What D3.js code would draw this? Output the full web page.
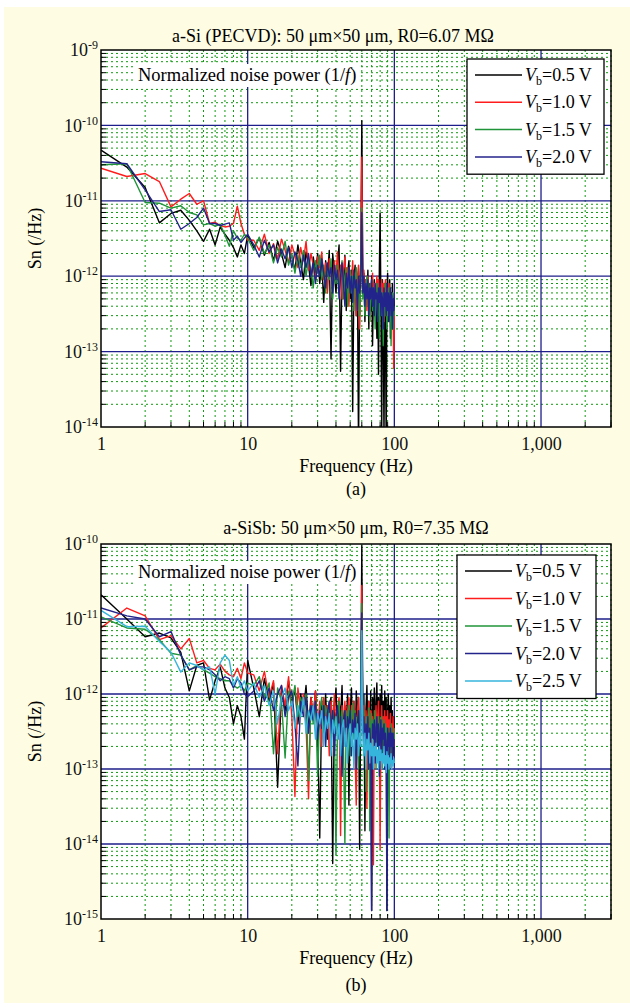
<!DOCTYPE html>
<html>
<head>
<meta charset="utf-8">
<script src="https://cdnjs.cloudflare.com/ajax/libs/d3/7.8.5/d3.min.js"></script>
<style>
  body { margin: 0; background: #fff; }
  svg { display: block; font-family: "Liberation Serif", "Times New Roman", serif; }
  .minorGrid { stroke: #109a10; stroke-width: 1; stroke-dasharray: 2,3; }
  .majorGrid { stroke: #1e1e8a; stroke-width: 1.3; }
  .frame { fill: none; stroke: #000; stroke-width: 1.5; }
  .trace { fill: none; stroke-width: 1.4; stroke-linejoin: round; }
</style>
</head>
<body>
<div id="chart"></div>
<script>
// frequency bins (Hz)
const freqs = [1, 1.5, 2, 2.5, 3, 3.5, 4, 4.5, 5, 5.5, 6, 6.5, 7, 7.5, 8, 8.5, 9, 9.5, 10,
  11, 12, 13, 14, 15, 16, 17, 18, 19, 20, 21, 22, 23, 24, 25, 26, 27, 28, 29, 30,
  31, 32, 33, 34, 35, 36, 37, 38, 39, 40, 41, 42, 43, 44, 45, 46, 47, 48, 49, 50,
  51, 52, 53, 54, 55, 56, 57, 58, 59, 60, 61, 62, 63, 64, 65, 66, 67, 68, 69, 70,
  71, 72, 73, 74, 75, 76, 77, 78, 79, 80, 81, 82, 83, 84, 85, 86, 87, 88, 89, 90,
  91, 92, 93, 94, 95, 96, 97, 98, 99, 100];
const xTicks = [1, 10, 100, 1000];
const xMax = 3000;
const biasLabels = ['0.5', '1.0', '1.5', '2.0', '2.5'];

// Sn values, in units of 1e-12 /Hz
// (a) a-Si
const siBlack = [47, 28, 15, 5.1, 6.8, 7.5, 5.5, 4.0, 2.9, 4.2, 2.6, 4.5, 3.6, 3.0, 2.4, 1.8, 2.6, 2.0, 3.5,
  2.4, 3.2, 1.9, 2.8, 1.6, 2.9, 2.0, 1.3, 2.5, 1.8,
  1.2, 2.6, 1.5, 0.9, 2.1, 1.4, 0.75, 1.8, 1.1, 2.0,
  0.8, 1.5, 0.45, 1.6, 1.0, 2.2, 0.08, 2.0, 1.1, 0.6,
  1.5, 2.6, 0.055, 1.3, 0.7, 1.9, 0.35, 1.1, 1.6, 0.5,
  1.2, 0.016, 0.9, 1.4, 0.3, 1.0, 0.005, 0.8, 1.5, 115,
  0.6, 1.1, 0.25, 0.9, 0.45, 1.2, 0.2, 0.8, 0.35, 1.0,
  0.12, 0.6, 0.9, 0.3, 0.7, 0.15, 0.8, 0.05, 1.2, 6.9,
  0.4, 0.008, 0.9, 0.3, 0.007, 0.8, 0.2, 0.006, 0.6, 1.1,
  0.25, 0.5, 0.9, 0.15, 0.6, 0.35, 0.8, 0.2, 0.5, 0.4];
const siRed = [27, 21, 23, 18, 8.3, 10.5, 12.5, 9.0, 10, 5.0, 5.2, 4.7, 4.5, 4.6, 5.0, 8.5, 5.0, 3.6, 3.0,
  3.0, 2.2, 3.6, 2.0, 2.7, 1.7, 3.1, 2.2, 1.5, 2.6,
  1.9, 1.3, 2.4, 1.6, 2.9, 1.2, 2.0, 1.4, 0.9, 1.8,
  1.3, 2.1, 0.9, 1.5, 0.6, 1.7, 1.1, 0.7, 1.6, 1.0,
  2.1, 0.8, 1.4, 0.5, 1.2, 1.8, 0.7, 1.3, 0.4, 1.1,
  0.8, 1.6, 0.6, 1.1, 0.3, 1.0, 1.4, 0.2, 0.9, 38,
  0.7, 1.2, 0.5, 0.9, 0.35, 1.0, 0.6, 0.25, 0.8, 0.5,
  1.1, 0.4, 0.8, 0.3, 0.7, 1.0, 0.45, 0.9, 0.3, 0.7,
  0.5, 0.9, 0.35, 0.8, 0.25, 0.6, 0.9, 0.4, 0.7, 0.3,
  0.6, 0.8, 0.35, 0.6, 0.25, 0.5, 0.3, 0.45, 0.06, 0.35];
const siGreen = [30, 31, 9.5, 9.3, 8.0, 8.6, 7.0, 6.5, 4.8, 5.0, 4.6, 4.9, 3.5, 2.5, 4.0, 3.2, 3.0, 3.6, 3.2,
  2.2, 3.3, 2.0, 2.6, 1.5, 2.4, 1.8, 2.9, 1.4, 2.0,
  1.1, 1.9, 1.3, 2.2, 1.0, 1.7, 1.2, 0.7, 1.6, 1.1,
  1.9, 0.9, 1.4, 0.6, 1.3, 0.9, 1.7, 0.5, 1.2, 0.8,
  1.4, 0.6, 1.1, 1.6, 0.5, 1.0, 1.3, 0.4, 0.9, 1.2,
  0.6, 1.0, 0.35, 0.9, 1.3, 0.5, 0.8, 0.3, 0.9, 8.0,
  0.5, 0.9, 0.3, 0.7, 1.0, 0.4, 0.8, 0.25, 0.6, 0.9,
  0.35, 0.7, 0.5, 0.2, 0.6, 0.8, 0.3, 0.6, 0.15, 0.5,
  0.7, 0.3, 0.6, 0.12, 0.5, 0.8, 0.3, 0.5, 0.2, 0.6,
  0.4, 0.7, 0.25, 0.5, 0.12, 0.45, 0.6, 0.2, 0.4, 0.3];
const siNavy = [33, 31, 14, 7.2, 7.6, 4.2, 5.0, 6.0, 8.0, 5.0, 5.0, 4.7, 4.9, 5.1, 3.0, 3.4, 2.8, 3.2, 3.6,
  2.6, 1.8, 3.0, 2.1, 2.6, 1.5, 2.3, 1.7, 2.4, 1.3,
  2.1, 1.6, 1.0, 1.9, 1.3, 2.0, 1.0, 1.5, 0.8, 1.4,
  1.0, 1.7, 1.1, 0.7, 1.5, 1.0, 1.3, 0.6, 1.4, 0.9,
  1.2, 0.5, 1.0, 1.5, 0.8, 0.4, 1.1, 0.7, 1.3, 0.6,
  1.0, 0.45, 1.2, 0.7, 0.9, 0.35, 1.0, 0.6, 0.8, 7.0,
  0.6, 1.0, 0.4, 0.8, 0.5, 0.9, 0.3, 0.7, 0.5, 0.9,
  0.4, 0.7, 0.3, 0.8, 0.5, 0.6, 0.25, 0.7, 0.45, 0.8,
  0.3, 0.6, 0.5, 0.2, 0.7, 0.4, 0.6, 0.3, 0.8, 0.35,
  0.6, 0.25, 0.5, 0.7, 0.3, 0.55, 0.2, 0.5, 0.35, 0.6];

// (b) a-SiSb
const sbBlack = [21, 10, 5.8, 6.5, 5.6, 3.6, 1.1, 2.4, 2.6, 0.83, 1.5, 2.3, 1.2, 0.9, 0.4, 0.7, 0.5, 0.25, 2.8,
  1.2, 0.5, 1.6, 0.8, 1.4, 0.057, 1.1, 0.6, 1.5, 0.7,
  1.2, 0.4, 1.0, 0.6, 1.3, 0.35, 0.9, 0.5, 1.1, 0.3,
  0.012, 0.8, 0.4, 1.0, 0.25, 0.7, 0.9, 0.0055, 0.6, 1.2,
  0.3, 0.8, 0.5, 1.3, 0.2, 0.7, 0.4, 1.0, 0.033, 0.6,
  1.2, 0.3, 0.8, 0.15, 1.1, 0.5, 0.9, 0.0085, 0.7, 95,
  0.4, 1.0, 0.015, 0.6, 1.3, 0.3, 0.8, 0.12, 1.1, 0.0013,
  0.9, 0.4, 1.2, 0.2, 0.8, 1.4, 0.3, 0.9, 0.1, 1.0,
  0.5, 1.3, 0.25, 0.8, 0.15, 1.1, 0.4, 0.9, 0.0013, 0.6,
  1.0, 0.3, 0.7, 0.2, 0.9, 0.35, 0.6, 0.15, 0.5, 0.3];
const sbRed = [7.6, 14, 11, 5.3, 6.0, 4.0, 5.5, 2.6, 2.8, 2.2, 2.1, 2.5, 2.0, 1.8, 1.7, 2.2, 1.6, 2.6, 1.9,
  1.8, 1.1, 2.0, 0.9, 1.5, 0.16, 1.3, 0.7, 1.7, 0.5,
  0.043, 1.2, 0.6, 1.0, 0.4, 0.04, 0.9, 0.5, 1.1, 0.35,
  0.8, 0.2, 0.9, 0.45, 0.7, 0.15, 0.8, 0.4, 1.0, 0.3,
  0.6, 0.9, 0.013, 0.7, 0.35, 0.8, 0.2, 0.6, 0.9, 0.25,
  0.7, 0.4, 0.8, 0.15, 0.033, 0.6, 0.9, 0.3, 0.5, 28,
  0.4, 0.7, 0.2, 0.6, 0.03, 0.5, 0.8, 0.25, 0.6, 0.1,
  0.5, 0.0053, 0.6, 0.3, 0.7, 0.2, 0.5, 0.8, 0.25, 0.0085,
  0.4, 0.7, 0.2, 0.5, 0.3, 0.6, 0.15, 0.5, 0.3, 0.6,
  0.2, 0.45, 0.3, 0.55, 0.15, 0.4, 0.25, 0.5, 0.2, 0.35];
const sbGreen = [10.7, 7.6, 7.3, 5.3, 3.5, 3.3, 2.1, 2.4, 2.1, 1.9, 1.7, 1.6, 1.5, 1.5, 1.3, 1.2, 1.3, 1.1, 1.4,
  1.3, 1.7, 0.9, 1.4, 0.16, 1.2, 0.8, 0.14, 1.1, 0.7,
  1.3, 0.5, 0.9, 0.6, 1.0, 0.07, 0.7, 0.4, 0.8, 0.08,
  0.6, 0.9, 0.3, 0.7, 0.5, 0.8, 0.2, 0.6, 0.4, 0.0073,
  0.5, 0.8, 0.3, 0.6, 0.2, 0.01, 0.6, 0.35, 0.7, 0.15,
  0.5, 0.75, 0.25, 0.6, 0.3, 0.5, 0.1, 0.45, 0.7, 16,
  0.3, 0.6, 0.4, 0.05, 0.5, 0.3, 0.65, 0.015, 0.4, 0.55,
  0.2, 0.45, 0.3, 0.6, 0.1, 0.4, 0.25, 0.5, 0.15, 0.4,
  0.3, 0.5, 0.1, 0.35, 0.45, 0.2, 0.4, 0.25, 0.35, 0.1,
  0.3, 0.012, 0.35, 0.2, 0.4, 0.15, 0.3, 0.2, 0.35, 0.25];
const sbNavy = [14, 11, 10, 5.8, 6.8, 3.3, 2.1, 2.3, 2.3, 2.1, 1.8, 1.5, 1.7, 1.6, 1.2, 1.6, 1.4, 1.0, 0.92,
  1.1, 1.5, 0.8, 1.2, 0.6, 1.0, 1.3, 0.5, 0.9, 1.1,
  0.4, 0.11, 0.8, 0.5, 0.9, 0.3, 0.7, 0.45, 0.8, 0.25,
  0.6, 0.35, 0.7, 0.2, 0.55, 0.8, 0.3, 0.6, 0.15, 0.5,
  0.7, 0.25, 0.5, 0.08, 0.45, 0.6, 0.2, 0.5, 0.35, 0.6,
  0.15, 0.45, 0.3, 0.55, 0.1, 0.4, 0.6, 0.2, 0.45, 12,
  0.3, 0.5, 0.15, 0.4, 0.25, 0.5, 0.1, 0.35, 0.2, 0.0013,
  0.4, 0.25, 0.45, 0.12, 0.35, 0.5, 0.2, 0.4, 0.08, 0.3,
  0.45, 0.15, 0.35, 0.25, 0.4, 0.1, 0.3, 0.2, 0.0013, 0.35,
  0.2, 0.3, 0.1, 0.35, 0.2, 0.3, 0.12, 0.3, 0.2, 0.25];
const sbCyan = [13, 7.9, 8.0, 5.0, 3.6, 1.96, 2.6, 2.4, 2.1, 2.3, 1.0, 2.6, 3.3, 2.8, 1.3, 1.7, 1.2, 1.5, 1.1,
  1.4, 0.9, 1.3, 0.7, 1.1, 0.4, 0.9, 1.2, 0.6, 0.8,
  0.35, 0.7, 0.5, 0.9, 0.3, 0.6, 0.45, 0.7, 0.25, 0.55,
  0.4, 0.6, 0.2, 0.5, 0.35, 0.55, 0.15, 0.45, 0.3, 0.5,
  0.25, 0.4, 0.15, 0.35, 0.45, 0.2, 0.35, 0.12, 0.3, 0.4,
  0.2, 0.3, 0.1, 0.35, 0.25, 0.4, 0.15, 0.3, 0.2, 7.0,
  0.25, 0.15, 0.3, 0.1, 0.25, 0.18, 0.3, 0.12, 0.22, 0.15,
  0.25, 0.1, 0.2, 0.15, 0.22, 0.12, 0.18, 0.1, 0.2, 0.13,
  0.18, 0.1, 0.16, 0.12, 0.2, 0.11, 0.15, 0.09, 0.17, 0.12,
  0.15, 0.1, 0.14, 0.12, 0.16, 0.1, 0.13, 0.11, 0.14, 0.12];

const lineColors = ['#000000', '#ff1c1c', '#1f9438', '#23238c', '#35b4dc'];
const unit = 1e-12;

const width = 630;
const height = 1008;
const svg = d3.select('#chart').append('svg')
  .attr('width', width)
  .attr('height', height);

// cream page background
svg.append('rect')
  .attr('x', 4).attr('y', 7)
  .attr('width', width - 4).attr('height', 996)
  .attr('fill', '#fefde3');

const panels = [
  {
    id: 'a', top: 50, bottom: 427, yMin: 1e-14, yMax: 1e-9,
    title: 'a-Si (PECVD): 50 μm×50 μm, R0=6.07 MΩ', caption: '(a)',
    titleX: 333, titleY: 42, captionY: 495,
    series: [siBlack, siRed, siGreen, siNavy],
    legend: { x: 467, y: 59, w: 137, rowH: 27.3 },
    noteY: 75
  },
  {
    id: 'b', top: 544, bottom: 919, yMin: 1e-15, yMax: 1e-10,
    title: 'a-SiSb: 50 μm×50 μm, R0=7.35 MΩ', caption: '(b)',
    titleX: 356, titleY: 534, captionY: 991,
    series: [sbBlack, sbRed, sbGreen, sbNavy, sbCyan],
    legend: { x: 457, y: 555, w: 139, rowH: 27.5 },
    noteY: 572
  }
];

const left = 101;
const right = 611;

const drawPanel = (p) => {
  const x = d3.scaleLog().domain([1, xMax]).range([left, right]);
  const y = d3.scaleLog().domain([p.yMin, p.yMax]).range([p.bottom, p.top]);
  const g = svg.append('g').attr('class', 'panel-' + p.id);

  g.append('rect')
    .attr('x', left).attr('y', p.top)
    .attr('width', right - left).attr('height', p.bottom - p.top)
    .attr('fill', '#fff');

  const isDecade = v => Math.abs(Math.log10(v) - Math.round(Math.log10(v))) < 1e-6;
  const xMinor = x.ticks().filter(v => !isDecade(v));
  const yMinor = y.ticks().filter(v => !isDecade(v));
  const xMajor = x.ticks().filter(v => isDecade(v) && v > 1);
  const yMajor = y.ticks().filter(v => isDecade(v) && v > p.yMin && v < p.yMax);

  g.selectAll('.vMinor').data(xMinor).enter().append('line')
    .attr('class', 'minorGrid')
    .attr('x1', d => x(d)).attr('x2', d => x(d))
    .attr('y1', p.top).attr('y2', p.bottom);
  g.selectAll('.hMinor').data(yMinor).enter().append('line')
    .attr('class', 'minorGrid')
    .attr('x1', left).attr('x2', right)
    .attr('y1', d => y(d)).attr('y2', d => y(d));
  g.selectAll('.vMajor').data(xMajor).enter().append('line')
    .attr('class', 'majorGrid')
    .attr('x1', d => x(d)).attr('x2', d => x(d))
    .attr('y1', p.top).attr('y2', p.bottom);
  g.selectAll('.hMajor').data(yMajor).enter().append('line')
    .attr('class', 'majorGrid')
    .attr('x1', left).attr('x2', right)
    .attr('y1', d => y(d)).attr('y2', d => y(d));

  // note label with white box
  const note = g.append('text')
    .attr('x', 138).attr('y', p.noteY + 6)
    .attr('font-size', 18.5);
  note.append('tspan').text('Normalized noise power (1/');
  note.append('tspan').attr('font-style', 'italic').text('f');
  note.append('tspan').text(')');
  const nb = note.node().getBBox();
  g.insert('rect', 'text')
    .attr('x', nb.x - 4).attr('y', nb.y - 1)
    .attr('width', nb.width + 8).attr('height', nb.height + 2)
    .attr('fill', '#fff');

  // traces
  const clipId = 'clip-' + p.id;
  g.append('clipPath').attr('id', clipId)
    .append('rect')
    .attr('x', left).attr('y', p.top)
    .attr('width', right - left).attr('height', p.bottom - p.top);
  const line = d3.line()
    .x((d, i) => x(freqs[i]))
    .y(d => y(d * unit));
  g.append('g')
    .attr('clip-path', `url(#${clipId})`)
    .selectAll('.trace')
    .data(p.series)
    .enter()
    .append('path')
    .attr('class', 'trace')
    .attr('stroke', (d, i) => lineColors[i])
    .attr('d', line);

  // frame and minor ticks
  g.append('rect')
    .attr('class', 'frame')
    .attr('x', left).attr('y', p.top)
    .attr('width', right - left).attr('height', p.bottom - p.top);
  g.selectAll('.yTick').data(yMinor).enter().append('line')
    .attr('stroke', '#000').attr('stroke-width', 1)
    .attr('x1', left).attr('x2', left + 5)
    .attr('y1', d => y(d)).attr('y2', d => y(d));
  g.selectAll('.xTick').data(xMinor).enter().append('line')
    .attr('stroke', '#000').attr('stroke-width', 1)
    .attr('x1', d => x(d)).attr('x2', d => x(d))
    .attr('y1', p.bottom).attr('y2', p.bottom - 5);

  // axes labels
  const xAxis = g.append('g')
    .attr('transform', `translate(0,${p.bottom})`)
    .call(d3.axisBottom(x).tickValues(xTicks).tickFormat(d3.format(',')).tickSize(0).tickPadding(10));
  xAxis.select('.domain').remove();
  xAxis.attr('font-family', null).attr('font-size', 18);
  xAxis.selectAll('text').attr('fill', '#111');

  const decades = d3.range(Math.round(Math.log10(p.yMin)), Math.round(Math.log10(p.yMax)) + 1)
    .map(e => Math.pow(10, e));
  const yAxis = g.append('g')
    .attr('transform', `translate(${left},0)`)
    .call(d3.axisLeft(y).tickValues(decades).tickSize(0).tickPadding(3));
  yAxis.select('.domain').remove();
  yAxis.attr('font-family', null).attr('font-size', 18);
  yAxis.selectAll('.tick text')
    .attr('fill', '#111')
    .each(function (d) {
      const t = d3.select(this);
      t.text(null);
      t.append('tspan').text('10');
      t.append('tspan')
        .attr('dy', -7)
        .attr('font-size', 12)
        .text(Math.round(Math.log10(d)));
    });

  const cx = (left + right) / 2;
  g.append('text')
    .attr('x', p.titleX).attr('y', p.titleY)
    .attr('text-anchor', 'middle')
    .attr('font-size', 18)
    .text(p.title);
  g.append('text')
    .attr('x', cx).attr('y', p.bottom + 45)
    .attr('text-anchor', 'middle')
    .attr('font-size', 18)
    .text('Frequency (Hz)');
  g.append('text')
    .attr('x', cx).attr('y', p.captionY)
    .attr('text-anchor', 'middle')
    .attr('font-size', 18)
    .text(p.caption);
  g.append('text')
    .attr('transform', `translate(41,${(p.top + p.bottom) / 2}) rotate(-90)`)
    .attr('text-anchor', 'middle')
    .attr('font-size', 18)
    .text('Sn (/Hz)');

  // legend
  const lg = p.legend;
  const n = p.series.length;
  const legend = g.append('g').attr('transform', `translate(${lg.x},${lg.y})`);
  legend.append('rect')
    .attr('width', lg.w)
    .attr('height', lg.rowH * n + 6)
    .attr('fill', '#fff')
    .attr('stroke', '#000')
    .attr('stroke-width', 1.3);
  const rows = legend.selectAll('.legendRow')
    .data(p.series.map((s, i) => i))
    .enter()
    .append('g')
    .attr('class', 'legendRow')
    .attr('transform', i => `translate(0,${16 + i * lg.rowH})`);
  rows.append('line')
    .attr('x1', 8).attr('x2', 55)
    .attr('stroke', i => lineColors[i])
    .attr('stroke-width', 1.5);
  const lt = rows.append('text')
    .attr('x', 58).attr('y', 6)
    .attr('font-size', 18);
  lt.append('tspan').attr('font-style', 'italic').text('V');
  lt.append('tspan').attr('dy', 4).attr('font-size', 12).text('b');
  lt.append('tspan').attr('dy', -4).text(i => '=' + biasLabels[i] + ' V');
};

panels.forEach(drawPanel);
</script>
</body>
</html>
